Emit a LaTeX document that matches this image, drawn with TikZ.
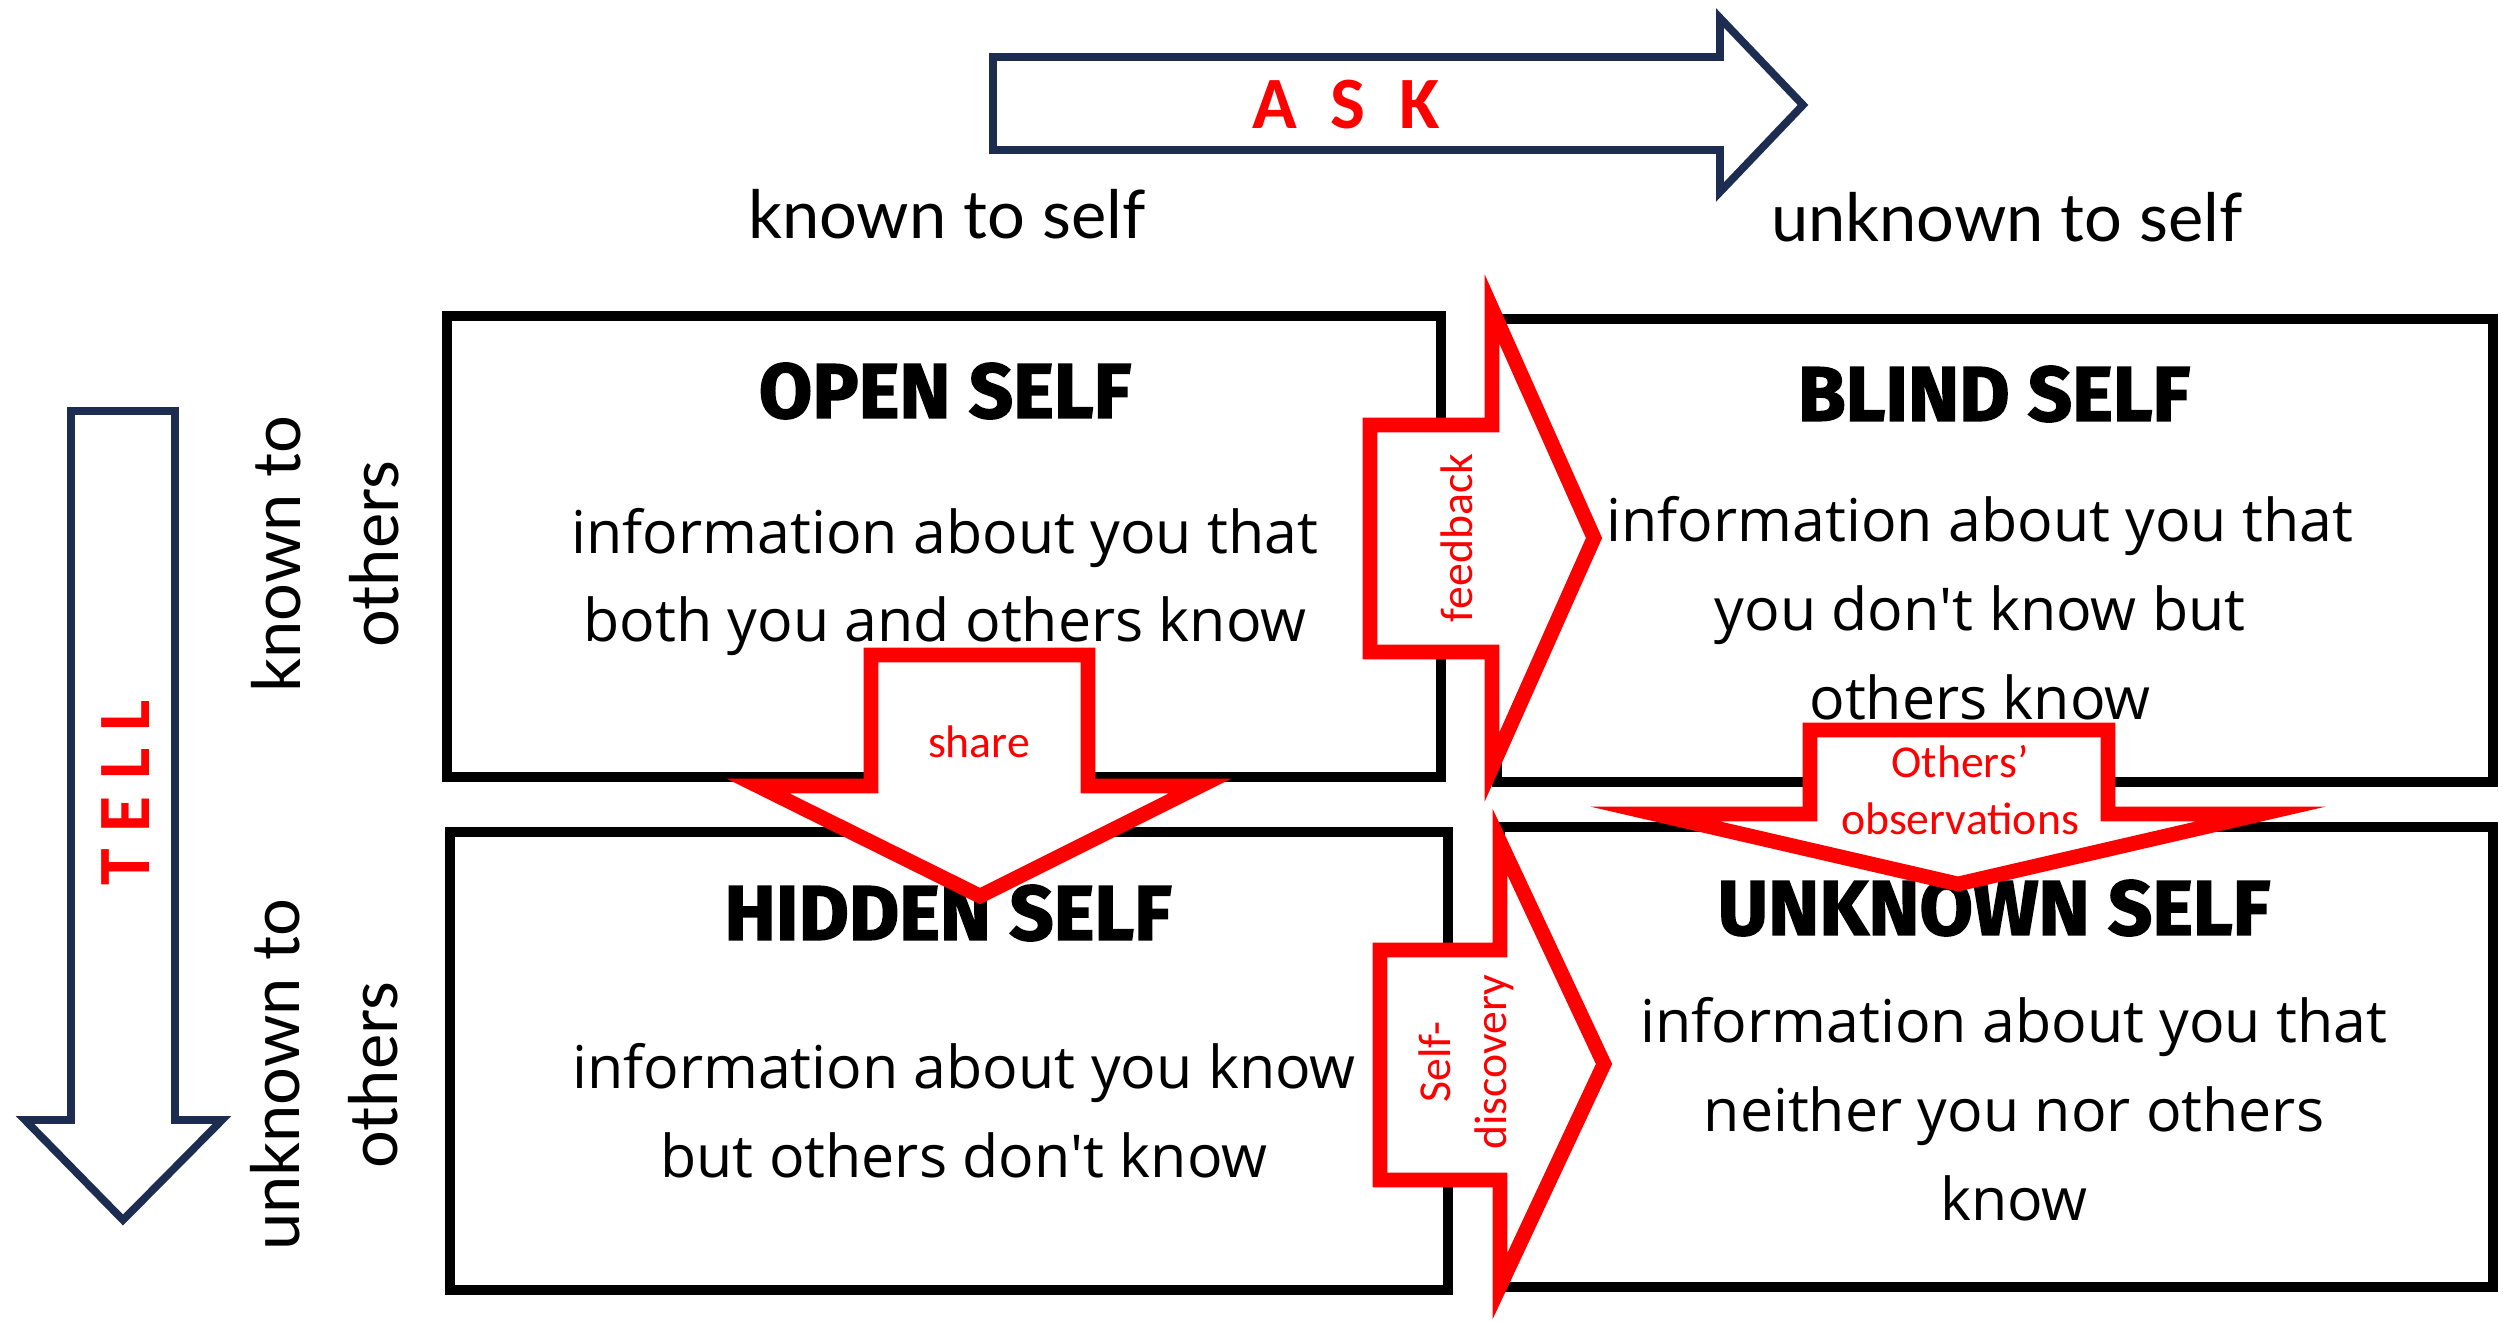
\documentclass[tikz,border=0pt]{standalone}
\usepackage{fontspec}
\setmainfont{Open Sans}
\newfontfamily\lightfont{Lato}
\newfontfamily\heavyfont{Fira Sans}[BoldFeatures={FakeBold=2}]
\newfontfamily\calfont{Carlito}
\definecolor{navy}{HTML}{1C2D51}

\begin{document}
\begin{tikzpicture}[
    quad/.style={draw=black, line width=2.8pt},
    navyarrow/.style={draw=navy, line width=2.2pt, fill=white, miter limit=20},
    redarrow/.style={draw=red, line width=4.2pt, fill=white, miter limit=20},
    title/.style={font=\heavyfont\bfseries\fontsize{22}{26}\selectfont},
    info/.style={align=center, font=\fontsize{16.8}{25.3}\selectfont},
    side/.style={align=center, font=\lightfont\fontsize{19}{28}\selectfont},
    arrowword/.style={text=red, font=\calfont\bfseries\fontsize{21}{25}\selectfont},
    redword/.style={text=red, align=center, font=\calfont\fontsize{13}{16}\selectfont}
  ]
  \useasboundingbox (0,0) rectangle (25.03,13.22);

  % ASK arrow along the top
  \draw[navyarrow] (9.93,12.65) -- (17.20,12.65) -- (17.20,13.04) -- (18.03,12.17)
                   -- (17.20,11.30) -- (17.20,11.72) -- (9.93,11.72) -- cycle;
  \node[arrowword] (ask) at (13.46,12.17) {A~~S~~K};

  % TELL arrow down the left side
  \draw[navyarrow] (0.71,9.11) -- (1.75,9.11) -- (1.75,2.02) -- (2.22,2.02) -- (1.23,1.02)
                   -- (0.25,2.02) -- (0.71,2.02) -- cycle;
  \node[arrowword, rotate=90] (tell) at (1.26,5.29) {T E L L};

  % Column and row headings
  \node[side] (selfknown) at (9.47,11.08) {known to self};
  \node[side] (selfunknown) at (20.07,11.05) {unknown to self};
  \node[side, rotate=90] (othersknown) at (3.25,7.68) {known to\\others};
  \node[side, rotate=90] (othersunknown) at (3.24,2.47) {unknown to\\others};

  % The four panes
  \node[quad, minimum width=9.94cm, minimum height=4.61cm] (openbox) at (9.44,7.755) {};
  \node[quad, minimum width=9.96cm, minimum height=4.63cm] (blindbox) at (19.95,7.715) {};
  \node[quad, minimum width=9.98cm, minimum height=4.58cm] (hiddenbox) at (9.49,2.61) {};
  \node[quad, minimum width=9.93cm, minimum height=4.60cm] (unknownbox) at (19.965,2.65) {};

  \node[title] (opentitle) at (9.45,9.31) {OPEN SELF};
  \node[title] (blindtitle) at (19.94,9.28) {BLIND SELF};
  \node[title] (hiddentitle) at (9.48,4.09) {HIDDEN SELF};
  \node[title] (unknowntitle) at (19.94,4.14) {UNKNOWN SELF};

  \node[info] (opentext) at (9.45,7.40) {information about you that\\both you and others know};
  \node[info] (blindtext) at (19.80,7.14) {information about you that\\you don\textquotesingle t know but\\others know};
  \node[info] (hiddentext) at (9.64,2.11) {information about you know\\but others don\textquotesingle t know};
  \node[info] (unknowntext) at (20.14,2.13) {information about you that\\neither you nor others\\know};

  % Red block arrows between the panes
  \draw[redarrow] (13.70,8.97) -- (14.92,8.97) -- (14.92,10.13) -- (15.94,7.84)
                  -- (14.92,5.55) -- (14.92,6.70) -- (13.70,6.70) -- cycle;
  \node[redword, rotate=90] (feedback) at (14.57,7.84) {feedback};

  \draw[redarrow] (13.80,3.72) -- (15.00,3.72) -- (15.00,4.80) -- (16.04,2.58)
                  -- (15.00,0.36) -- (15.00,1.42) -- (13.80,1.42) -- cycle;
  \node[redword, rotate=90] (discovery) at (14.66,2.60) {Self-\\discovery};

  \draw[redarrow] (8.71,6.67) -- (10.88,6.67) -- (10.88,5.36) -- (12.00,5.36)
                  -- (9.80,4.26) -- (7.58,5.36) -- (8.71,5.36) -- cycle;
  \node[redword] (share) at (9.79,5.80) {share};

  \draw[redarrow] (18.10,5.92) -- (21.08,5.92) -- (21.08,5.08) -- (22.61,5.08)
                  -- (19.58,4.38) -- (16.55,5.08) -- (18.10,5.08) -- cycle;
  \node[redword, font=\calfont\fontsize{13}{16.3}\selectfont] (observe) at (19.60,5.32) {Others’\\observations};
\end{tikzpicture}
\end{document}
